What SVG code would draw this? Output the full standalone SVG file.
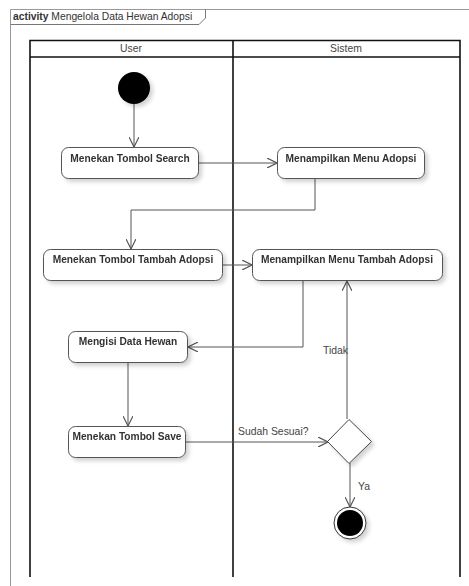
<svg xmlns="http://www.w3.org/2000/svg" width="469" height="586" viewBox="0 0 469 586">
  <defs>
    <marker id="arrow" viewBox="0 0 10 10" refX="10" refY="5" markerWidth="10" markerHeight="10" markerUnits="userSpaceOnUse" orient="auto">
      <path d="M0,0 L10,5 L0,10" fill="none" stroke="#555" stroke-width="1.2"/>
    </marker>
    <filter id="shadow" x="-10%" y="-20%" width="130%" height="160%">
      <feGaussianBlur in="SourceAlpha" stdDeviation="2"/>
      <feOffset dx="3" dy="3" result="b"/>
      <feComponentTransfer><feFuncA type="linear" slope="0.18"/></feComponentTransfer>
      <feMerge><feMergeNode/><feMergeNode in="SourceGraphic"/></feMerge>
    </filter>
  </defs>
  <style>
    .action rect { fill: #fff; stroke: #555; stroke-width: 1; }
    .action text { font-family: "Liberation Sans", Arial, sans-serif; font-size: 10.2px; font-weight: bold; fill: #333; text-anchor: middle; }
    .edge { fill: none; stroke: #555; stroke-width: 1; }
    .label { font-family: "Liberation Sans", Arial, sans-serif; font-size: 10.4px; fill: #444; }
    .lane { fill: none; stroke: #111; stroke-width: 1.6; }
    .lane-title { font-family: "Liberation Sans", Arial, sans-serif; font-size: 10.4px; fill: #444; text-anchor: middle; }
  </style>
  <rect width="469" height="586" fill="#fff"/>

  <!-- frame -->
  <g id="frame">
    <path d="M10.5,586 V9.5 H469" fill="none" stroke="#999" stroke-width="1"/>
    <path d="M10.5,24.5 H199 L205.5,18 V9.5" fill="none" stroke="#777" stroke-width="1"/>
    <text x="13" y="20" font-family="Liberation Sans, Arial, sans-serif" font-size="10.3" fill="#333"><tspan font-weight="bold">activity</tspan> Mengelola Data Hewan Adopsi</text>
  </g>

  <!-- swimlanes -->
  <g id="lanes">
    <path class="lane" d="M30,577 V40.5 H460 V577"/>
    <path class="lane" d="M30,57 H460"/>
    <path class="lane" d="M233,40.5 V577"/>
    <text class="lane-title" x="131" y="52">User</text>
    <text class="lane-title" x="346" y="52">Sistem</text>
  </g>

  <!-- connectors -->
  <g id="connectors">
    <path class="edge" d="M134,104 V147" marker-end="url(#arrow)"/>
    <path class="edge" d="M199,163 H277" marker-end="url(#arrow)"/>
    <path class="edge" d="M315,179 V210 H131 V249" marker-end="url(#arrow)"/>
    <path class="edge" d="M223,265 H252" marker-end="url(#arrow)"/>
    <path class="edge" d="M303,281 V347 H188" marker-end="url(#arrow)"/>
    <path class="edge" d="M128,363 V426" marker-end="url(#arrow)"/>
    <path class="edge" d="M186,442 H328" marker-end="url(#arrow)"/>
    <path class="edge" d="M347,419 V281" marker-end="url(#arrow)"/>
    <path class="edge" d="M350,463 V507" marker-end="url(#arrow)"/>
    <text class="label" x="238" y="435">Sudah Sesuai?</text>
    <text class="label" x="323" y="354">Tidak</text>
    <text class="label" x="358" y="490">Ya</text>
  </g>

  <!-- nodes -->
  <g id="start" filter="url(#shadow)">
    <circle cx="134" cy="88" r="16" fill="#000"/>
  </g>
  <g id="menekan-tombol-search" class="action" filter="url(#shadow)">
    <rect x="61.5" y="147.5" width="137" height="31" rx="7"/>
    <text x="130" y="162">Menekan Tombol Search</text>
  </g>
  <g id="menampilkan-menu-adopsi" class="action" filter="url(#shadow)">
    <rect x="277.5" y="147.5" width="147" height="31" rx="7"/>
    <text x="351" y="162">Menampilkan Menu Adopsi</text>
  </g>
  <g id="menekan-tombol-tambah-adopsi" class="action" filter="url(#shadow)">
    <rect x="43.5" y="249.5" width="179" height="31" rx="7"/>
    <text x="133" y="263">Menekan Tombol Tambah Adopsi</text>
  </g>
  <g id="menampilkan-menu-tambah-adopsi" class="action" filter="url(#shadow)">
    <rect x="252.5" y="249.5" width="190" height="31" rx="7"/>
    <text x="347" y="263">Menampilkan Menu Tambah Adopsi</text>
  </g>
  <g id="mengisi-data-hewan" class="action" filter="url(#shadow)">
    <rect x="68.5" y="331.5" width="119" height="31" rx="7"/>
    <text x="128" y="345">Mengisi Data Hewan</text>
  </g>
  <g id="menekan-tombol-save" class="action" filter="url(#shadow)">
    <rect x="68.5" y="426.5" width="117" height="31" rx="7"/>
    <text x="127" y="440">Menekan Tombol Save</text>
  </g>
  <g id="decision" filter="url(#shadow)">
    <path d="M349,419.5 L371.5,441.5 L349,463.5 L327.5,441.5 Z" fill="#fff" stroke="#444" stroke-width="1"/>
  </g>
  <g id="end" filter="url(#shadow)">
    <circle cx="350" cy="523" r="16" fill="#fff" stroke="#333" stroke-width="1"/>
    <circle cx="350" cy="523" r="13" fill="#000"/>
  </g>
</svg>
